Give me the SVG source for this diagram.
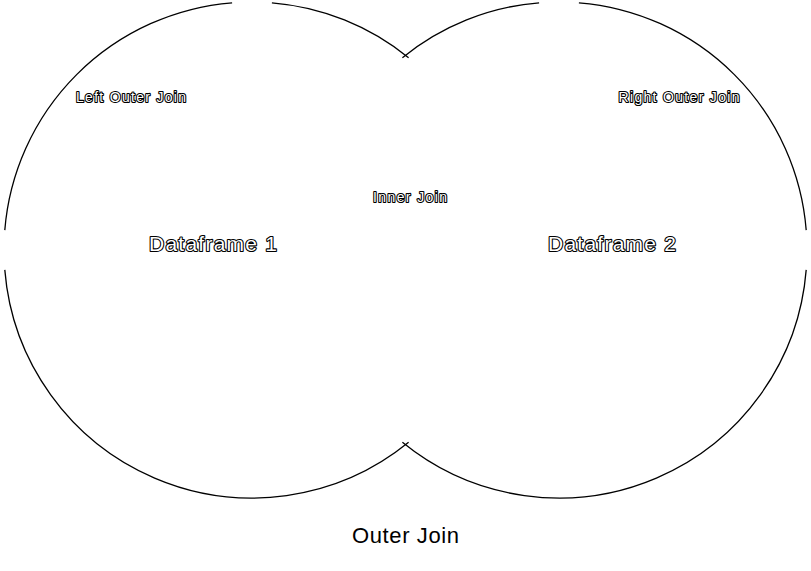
<svg xmlns="http://www.w3.org/2000/svg" width="811" height="571" viewBox="0 0 811 571">
<style>
.c{fill:none;stroke:#000;stroke-width:1.3}
.t{font-family:"Liberation Sans",Arial,sans-serif;fill:#fff;stroke:#000;stroke-width:2.2;paint-order:stroke;stroke-linejoin:round;text-anchor:middle}
.s{font-size:14px}
.b{font-size:21px}
.o{font-family:"Liberation Sans",Arial,sans-serif;font-size:22px;fill:#000;text-anchor:middle}
</style>
<rect width="811" height="571" fill="#fff"/>
<g id="connectors">
<path class="c" d="M408.6,57.7 A248,248 0 0 0 271.9,2.8 M232.1,2.8 A248,248 0 0 0 4.8,230.1 M4.8,269.9 A248,248 0 0 0 408.6,442.3"/>
<path class="c" d="M402.4,57.7 A248,248 0 0 1 539.1,2.8 M578.9,2.8 A248,248 0 0 1 806.2,230.1 M806.2,269.9 A248,248 0 0 1 402.4,442.3"/>
</g>
<g id="left-outer"><text class="t s" x="131" y="102" textLength="110" lengthAdjust="spacing">Left Outer Join</text></g>
<g id="right-outer"><text class="t s" x="679" y="102" textLength="121" lengthAdjust="spacing">Right Outer Join</text></g>
<g id="inner"><text class="t s" x="410" y="202" textLength="74" lengthAdjust="spacing">Inner Join</text></g>
<g id="df1"><text class="t b" x="213" y="251" textLength="128" lengthAdjust="spacing">Dataframe 1</text></g>
<g id="df2"><text class="t b" x="612" y="251" textLength="128" lengthAdjust="spacing">Dataframe 2</text></g>
<g id="outer"><text class="o" x="405.5" y="543" textLength="107" lengthAdjust="spacing">Outer Join</text></g>
</svg>
